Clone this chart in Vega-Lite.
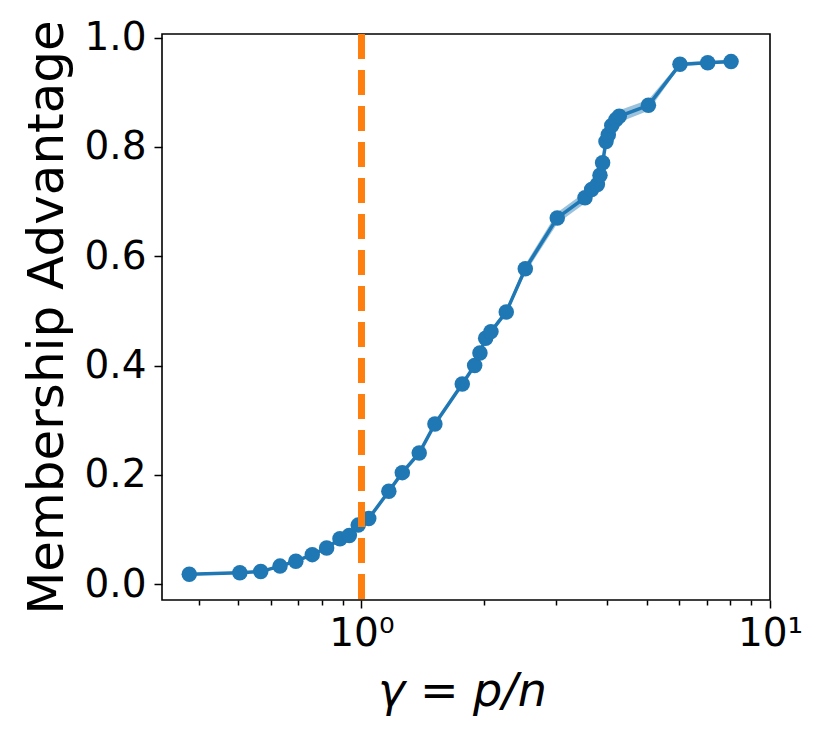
{
  "$schema": "https://vega.github.io/schema/vega-lite/v6.json",
  "width": 608,
  "height": 566,
  "autosize": "none",
  "padding": {"left": 162, "top": 34, "right": 60, "bottom": 147},
  "background": "white",
  "config": {
    "view": {"stroke": "black", "strokeWidth": 1.6},
    "axis": {
      "domain": false,
      "grid": false,
      "labelFont": "DejaVu Sans",
      "labelColor": "black",
      "titleFont": "DejaVu Sans",
      "titleColor": "black",
      "titleFontWeight": "normal",
      "tickColor": "black",
      "tickWidth": 1.5
    }
  },
  "data": {
    "values": [
      {"gamma": 0.379, "adv": 0.018, "lo": 0.016, "hi": 0.020},
      {"gamma": 0.504, "adv": 0.021, "lo": 0.019, "hi": 0.023},
      {"gamma": 0.567, "adv": 0.023, "lo": 0.021, "hi": 0.025},
      {"gamma": 0.632, "adv": 0.033, "lo": 0.031, "hi": 0.035},
      {"gamma": 0.691, "adv": 0.042, "lo": 0.040, "hi": 0.044},
      {"gamma": 0.758, "adv": 0.054, "lo": 0.052, "hi": 0.056},
      {"gamma": 0.822, "adv": 0.066, "lo": 0.064, "hi": 0.068},
      {"gamma": 0.886, "adv": 0.083, "lo": 0.081, "hi": 0.085},
      {"gamma": 0.934, "adv": 0.089, "lo": 0.087, "hi": 0.091},
      {"gamma": 0.982, "adv": 0.108, "lo": 0.105, "hi": 0.111},
      {"gamma": 1.042, "adv": 0.120, "lo": 0.117, "hi": 0.123},
      {"gamma": 1.167, "adv": 0.170, "lo": 0.167, "hi": 0.173},
      {"gamma": 1.259, "adv": 0.204, "lo": 0.201, "hi": 0.207},
      {"gamma": 1.385, "adv": 0.240, "lo": 0.237, "hi": 0.243},
      {"gamma": 1.513, "adv": 0.293, "lo": 0.290, "hi": 0.296},
      {"gamma": 1.765, "adv": 0.366, "lo": 0.362, "hi": 0.370},
      {"gamma": 1.893, "adv": 0.400, "lo": 0.396, "hi": 0.404},
      {"gamma": 1.950, "adv": 0.423, "lo": 0.419, "hi": 0.427},
      {"gamma": 2.014, "adv": 0.450, "lo": 0.446, "hi": 0.454},
      {"gamma": 2.075, "adv": 0.462, "lo": 0.457, "hi": 0.467},
      {"gamma": 2.262, "adv": 0.498, "lo": 0.493, "hi": 0.503},
      {"gamma": 2.518, "adv": 0.577, "lo": 0.569, "hi": 0.585},
      {"gamma": 3.015, "adv": 0.670, "lo": 0.660, "hi": 0.680},
      {"gamma": 3.525, "adv": 0.707, "lo": 0.697, "hi": 0.717},
      {"gamma": 3.660, "adv": 0.722, "lo": 0.712, "hi": 0.732},
      {"gamma": 3.780, "adv": 0.731, "lo": 0.722, "hi": 0.740},
      {"gamma": 3.836, "adv": 0.748, "lo": 0.740, "hi": 0.756},
      {"gamma": 3.893, "adv": 0.771, "lo": 0.763, "hi": 0.779},
      {"gamma": 3.968, "adv": 0.810, "lo": 0.801, "hi": 0.819},
      {"gamma": 4.020, "adv": 0.822, "lo": 0.812, "hi": 0.832},
      {"gamma": 4.100, "adv": 0.839, "lo": 0.828, "hi": 0.850},
      {"gamma": 4.200, "adv": 0.850, "lo": 0.839, "hi": 0.861},
      {"gamma": 4.276, "adv": 0.856, "lo": 0.845, "hi": 0.867},
      {"gamma": 5.040, "adv": 0.876, "lo": 0.866, "hi": 0.886},
      {"gamma": 6.020, "adv": 0.951, "lo": 0.947, "hi": 0.955},
      {"gamma": 7.040, "adv": 0.954, "lo": 0.951, "hi": 0.957},
      {"gamma": 8.030, "adv": 0.956, "lo": 0.953, "hi": 0.959}
    ]
  },
  "encoding": {
    "x": {
      "field": "gamma",
      "type": "quantitative",
      "scale": {"type": "log", "domain": [0.325, 10], "nice": false},
      "axis": {
        "title": "γ = p/n",
        "titleFontSize": 46,
        "titleFontStyle": "italic",
        "titleX": 300,
        "titleY": 105,
        "titleAlign": "center",
        "titleBaseline": "alphabetic",
        "values": [0.4, 0.5, 0.6, 0.7, 0.8, 0.9, 1, 2, 3, 4, 5, 6, 7, 8, 9, 10],
        "labelExpr": "datum.value == 1 ? '10⁰' : datum.value == 10 ? '10¹' : ''",
        "labelFontSize": 39,
        "labelPadding": 6,
        "labelOverlap": false,
        "labelBound": false,
        "labelFlush": false,
        "tickSize": {"condition": {"test": "datum.value == 1 || datum.value == 10", "value": 8}, "value": 5}
      }
    },
    "y": {
      "field": "adv",
      "type": "quantitative",
      "scale": {"domain": [-0.029, 1.0065], "nice": false, "zero": false},
      "axis": {
        "title": "Membership Advantage",
        "titleFontSize": 50,
        "titleAngle": -90,
        "titleX": -100,
        "titleY": 283,
        "titleAlign": "center",
        "titleBaseline": "alphabetic",
        "values": [0, 0.2, 0.4, 0.6, 0.8, 1.0],
        "format": ".1f",
        "labelFontSize": 39,
        "labelPadding": 8,
        "tickSize": 8
      }
    }
  },
  "layer": [
    {
      "mark": {"type": "area", "color": "#1f77b4", "opacity": 0.45},
      "encoding": {"y": {"field": "lo", "type": "quantitative"}, "y2": {"field": "hi"}}
    },
    {
      "mark": {"type": "line", "color": "#1f77b4", "strokeWidth": 3.5}
    },
    {
      "mark": {"type": "point", "filled": true, "color": "#1f77b4", "opacity": 1, "size": 240}
    },
    {
      "mark": {"type": "rule", "color": "#ff7f0e", "strokeWidth": 6.5, "strokeDash": [25, 11]},
      "encoding": {"x": {"datum": 1}, "y": null}
    }
  ]
}
